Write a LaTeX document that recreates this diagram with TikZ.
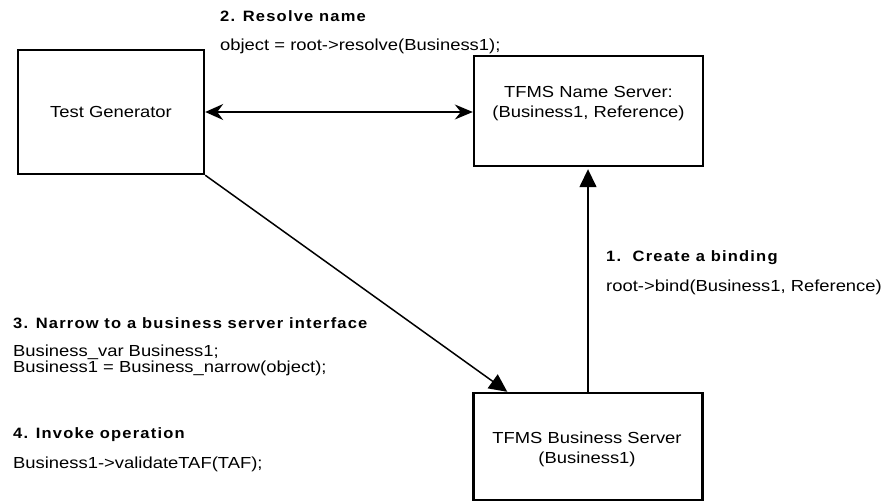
\documentclass[tikz,border=0pt]{standalone}
\usepackage{fontspec}
\setmainfont{Liberation Sans}[FakeStretch=1.15]
\newfontfamily\hdfont{Liberation Sans}[FakeStretch=1.1,LetterSpace=8]
\usetikzlibrary{arrows.meta,calc}
\begin{document}
\begin{tikzpicture}[x=1pt,y=-1pt,
  box/.style={draw, line width=2.4pt, inner sep=0pt},
  lbl/.style={anchor=base west, inner sep=0pt, align=left, font=\fontsize{16}{16}\selectfont},
  hd/.style={anchor=base west, inner sep=0pt, font=\fontsize{15}{16}\selectfont\hdfont\bfseries},
  btext/.style={anchor=base, inner sep=0pt, align=center, font=\fontsize{16}{20}\selectfont},
  conn/.style={line width=1.5pt},
  dbl/.style={conn, {Stealth[length=18pt,width=16pt,inset=6pt]}-{Stealth[length=18pt,width=15pt,inset=6pt]}},
  tri/.style={conn, -{Triangle[length=18pt,width=17pt]}}]
\useasboundingbox (0,0) rectangle (888,502);

% boxes
\node[box, minimum width=186pt, minimum height=124pt] (tg) at (111,112) {};
\node[box, minimum width=229pt, minimum height=110pt] (ns) at (588.5,111) {};
\node[box, minimum width=229pt, minimum height=107pt] (bs) at (588,446.5) {};

% box texts (anchor = baseline of the last line)
\node[btext] (tgt) at (111,117.5) {Test Generator};
\node[btext] (nst) at (588.5,117.5) {TFMS Name Server:\\(Business1, Reference)};
\node[btext] (bst) at (587,463.5) {TFMS Business Server\\(Business1)};

% connectors
\draw[dbl] (tg.east) -- (tg.east -| ns.west);
\draw[tri, shorten >=2pt] (bs.north) -- (bs.north |- ns.south);
\coordinate (dt) at ($(bs.north west)+(35,0)$);
\draw[tri] (tg.south east) -- (dt);

% labels
\node[hd] (h2) at (220,22) {2. Resolve name};
\node[lbl] (c2) at (220,51) {object = root->resolve(Business1);};
\node[hd] (h1) at (606,261.5) {1.\ \ Create a binding};
\node[lbl] (c1) at (606,292) {root->bind(Business1, Reference)};
\node[hd] (h3) at (13,328.5) {3. Narrow to a business server interface};
\node[lbl] (c3) at (13,372) {Business\_var Business1;\\Business1 = Business\_narrow(object);};
\node[hd] (h4) at (13,438.5) {4. Invoke operation};
\node[lbl] (c4) at (13,468.5) {Business1->validateTAF(TAF);};
\end{tikzpicture}
\end{document}
